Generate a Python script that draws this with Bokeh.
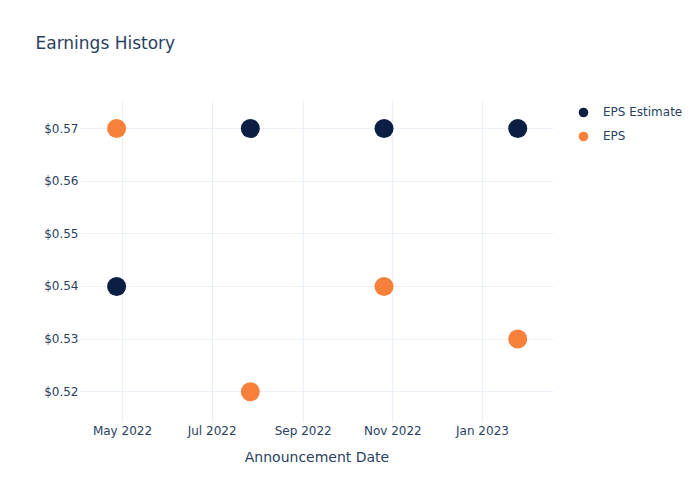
from datetime import datetime
from bokeh.plotting import figure
from bokeh.models import (ColumnDataSource, FixedTicker, MonthsTicker, DatetimeTickFormatter,
                          PrintfTickFormatter, Range1d, Legend, LegendItem, Title)
from bokeh.embed import file_html
from bokeh.resources import INLINE

dates = [datetime(2022, 4, 27), datetime(2022, 7, 27), datetime(2022, 10, 26), datetime(2023, 1, 25)]
eps_estimate = [0.54, 0.57, 0.57, 0.57]
eps_actual = [0.57, 0.52, 0.54, 0.53]
y_ticks = [0.52, 0.53, 0.54, 0.55, 0.56, 0.57]

FONT = "DejaVu Sans"
TXT = "#2a3f5f"
GRID = "#ebf0f8"

p = figure(frame_width=473, frame_height=322, output_backend="svg", toolbar_location=None,
           x_axis_type="datetime",
           x_range=Range1d(datetime(2022, 4, 2, 10), datetime(2023, 2, 18, 8)),
           y_range=Range1d(0.51415, 0.57533),
           min_border_left=80, min_border_right=147, min_border_top=100, min_border_bottom=78)
p.outline_line_color = None
p.background_fill_color = "white"
p.border_fill_color = "white"

src_e = ColumnDataSource(dict(x=dates, y=eps_estimate))
src_a = ColumnDataSource(dict(x=dates, y=eps_actual))
r1 = p.scatter("x", "y", source=src_e, size=19, color="#0b1f44", line_color=None)
r2 = p.scatter("x", "y", source=src_a, size=19, color="#f7813a", line_color=None)

p.xaxis.ticker = MonthsTicker(months=[0, 2, 4, 6, 8, 10])
p.xaxis.formatter = DatetimeTickFormatter(months="%b %Y", days="%b %Y")
p.yaxis.ticker = FixedTicker(ticks=y_ticks)
p.yaxis.formatter = PrintfTickFormatter(format="$%.2f")

for ax in (p.xaxis[0], p.yaxis[0]):
    ax.axis_line_color = None
    ax.major_tick_line_color = None
    ax.minor_tick_line_color = None
    ax.major_tick_out = 0
    ax.major_tick_in = 0
    ax.minor_tick_out = 0
    ax.minor_tick_in = 0
    ax.major_label_text_font = FONT
    ax.major_label_text_font_size = "12px"
    ax.major_label_text_color = TXT
p.xaxis.major_label_standoff = 1
p.yaxis.major_label_standoff = 2
p.xaxis.axis_label = "Announcement Date"
p.xaxis.axis_label_text_font = FONT
p.xaxis.axis_label_text_font_size = "14px"
p.xaxis.axis_label_text_font_style = "normal"
p.xaxis.axis_label_text_color = TXT
p.xaxis.axis_label_standoff = 8

p.xgrid.grid_line_color = GRID
p.ygrid.grid_line_color = GRID
p.xgrid.ticker = p.xaxis.ticker
p.ygrid.ticker = p.yaxis.ticker

# real title (placed farthest from the frame) and a spacer next to the frame
p.title = Title(text="Earnings History", align="left", offset=-45,
                text_font=FONT, text_font_size="17px", text_font_style="normal",
                text_color=TXT, standoff=0)
p.add_layout(Title(text=" ", text_font=FONT, text_font_size="17px", standoff=26), "above")

legend = Legend(items=[LegendItem(label="EPS Estimate", renderers=[r1]),
                       LegendItem(label="EPS", renderers=[r2])],
                location=(17, 274), border_line_color=None, background_fill_alpha=0,
                label_text_font=FONT, label_text_font_size="12px", label_text_color=TXT,
                glyph_width=26, glyph_height=24, spacing=0, padding=0, margin=0,
                label_standoff=7, label_height=19)
p.add_layout(legend, "right")

open("out.html", "w").write(file_html(p, INLINE))
